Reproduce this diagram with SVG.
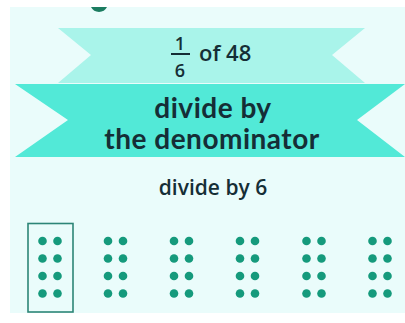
<svg xmlns="http://www.w3.org/2000/svg" width="405" height="323" viewBox="0 0 405 323">
<defs>
<style>
.t{font-family:"Open Sans","Noto Sans","Liberation Sans",sans-serif;font-weight:600;fill:#152e36;text-anchor:middle}
.r{font-family:Lato,"Open Sans","Liberation Sans",sans-serif;font-weight:700;fill:#152e36;text-anchor:middle;letter-spacing:0.5px}
.d{fill:#159a7c}
</style>
<g id="dots">
<circle class="d" cx="-7.5" cy="0" r="4.3"/><circle class="d" cx="7.5" cy="0" r="4.3"/>
<circle class="d" cx="-7.5" cy="17.5" r="4.3"/><circle class="d" cx="7.5" cy="17.5" r="4.3"/>
<circle class="d" cx="-7.5" cy="35" r="4.3"/><circle class="d" cx="7.5" cy="35" r="4.3"/>
<circle class="d" cx="-7.5" cy="52.5" r="4.3"/><circle class="d" cx="7.5" cy="52.5" r="4.3"/>
</g>
</defs>
<rect width="405" height="323" fill="#ffffff"/>
<rect id="panel" x="10" y="7" width="395" height="306" fill="#eafcfb"/>
<path d="M91 7 A9 9 0 0 0 107 7 Z" fill="#1b7c60"/>
<g id="ribbon1">
<polygon points="58,28 365,28 332,55 365,83 58,83 91,55" fill="#a9f4ea"/>
<text class="t" x="180" y="50" font-size="18">1</text>
<line x1="171" y1="54" x2="190" y2="54" stroke="#152e36" stroke-width="2"/>
<text class="t" x="180" y="77" font-size="18">6</text>
<text class="t" x="199" y="61" font-size="22" style="text-anchor:start">of 48</text>
</g>
<g id="ribbon2">
<polygon points="15,84 405,84 357,120 405,157 15,157 68,120" fill="#52e9d7"/>
<text class="r" x="213" y="118" font-size="28">divide by</text>
<text class="r" x="212" y="149" font-size="28">the denominator</text>
</g>
<text id="label" class="t" x="213" y="195" font-size="21">divide by 6</text>
<g id="group1">
<rect x="28" y="223.5" width="45" height="88.5" fill="none" stroke="#2d8577" stroke-width="1.6"/>
<use href="#dots" x="50" y="241"/>
</g>
<g id="group2"><use href="#dots" x="115.5" y="241"/></g>
<g id="group3"><use href="#dots" x="181.5" y="241"/></g>
<g id="group4"><use href="#dots" x="247.5" y="241"/></g>
<g id="group5"><use href="#dots" x="314" y="241"/></g>
<g id="group6"><use href="#dots" x="380" y="241"/></g>
<g id="connectors"/>
</svg>
